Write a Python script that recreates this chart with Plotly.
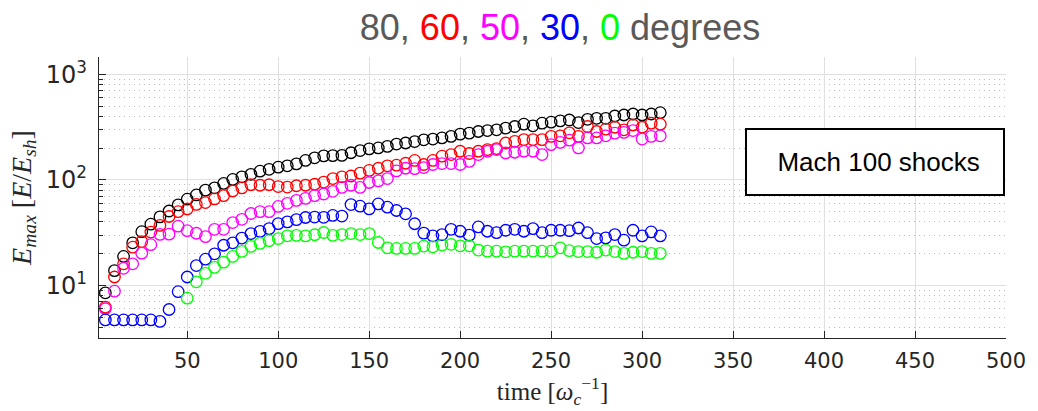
import plotly.graph_objects as go

# time axis (omega_c^-1)
time = [5 * k for k in range(1, 63)]          # 5 .. 310
time_green = [5 * k for k in range(10, 63)]   # 50 .. 310

deg80 = [8.5, 13.8, 18.8, 25.3, 32.3, 38, 44.6, 50.7, 58, 65.6,
         72, 80, 84, 92.6, 101, 107, 113, 121, 126, 132,
         136, 142, 153, 162, 169, 170, 171, 181, 190, 197,
         201, 208, 219, 224, 231, 240, 244, 250, 259, 272,
         278, 288, 294, 299, 310, 321, 338, 326, 345, 353,
         363, 370, 350, 376, 384, 384, 404, 413, 422, 413,
         422, 434]

deg60 = [6.2, 12, 16, 23, 26, 32, 37, 45, 50, 53,
         58.5, 61, 66, 71, 78.5, 84, 90, 89, 90, 86.5,
         85.5, 88, 89, 91, 95.5, 103, 107, 109, 116, 123,
         129, 136, 138, 144, 153, 140, 153, 168, 174, 187,
         178, 187, 194, 198, 224, 232, 241, 241, 241, 259,
         262, 280, 259, 321, 288, 303, 316, 299, 332, 316,
         345, 338]

deg50 = [6.0, 8.8, 14.5, 16, 20.2, 24.3, 30.4, 30.6, 36.4, 33,
         31.2, 29, 34, 34, 39.4, 42.3, 48, 50, 50, 56,
         60, 64, 66.8, 71, 73.5, 78, 84.8, 89, 85, 94.5,
         98, 103, 121.7, 129, 128, 131, 140, 143, 143, 140,
         150, 174, 187, 194, 180, 183, 187, 187, 174, 216,
         227, 238, 201, 250, 250, 262, 278, 282, 294, 244,
         259, 262]

deg30 = [4.7, 4.7, 4.7, 4.7, 4.7, 4.7, 4.55, 5.9, 8.7, 12,
         15.4, 17.7, 19.9, 24, 25.3, 28.1, 31, 32.5, 34.5, 38.5,
         40, 42, 44, 44.4, 44.2, 46, 45.4, 58.4, 56.3, 53.1,
         59.2, 55.1, 51.3, 47.7, 38.4, 31.3, 29.4, 30.3, 34, 32.6,
         29.9, 35.8, 32.6, 31.6, 33.3, 34, 32.6, 34.5, 31.6, 33.3,
         33.3, 33, 35, 31.6, 27.8, 28.2, 30.3, 26.8, 33.3, 29.4,
         32.1, 29.4]

deg0 = [7.55, 10.8, 13, 14.8, 16.6, 18.8, 21, 23.4, 25, 26.5,
        27.8, 29.5, 29.8, 29.4, 30.2, 31.7, 29.8, 30.3, 31, 30.3,
        31, 25.5, 22.7, 22.4, 22.4, 22.4, 23.6, 23.2, 24.1, 24.5,
        23.7, 23.7, 21.6, 21.1, 21.1, 20.8, 21.1, 21.1, 21.1, 21.1,
        21.1, 22.7, 21.3, 20.9, 20.9, 20.6, 21.6, 20.9, 20.1, 20.6,
        20.9, 20.1, 20.1]

x_ticks = [50, 100, 150, 200, 250, 300, 350, 400, 450, 500]
y_ticks = [10, 100, 1000]
y_ticktext = ["10<sup>1</sup>", "10<sup>2</sup>", "10<sup>3</sup>"]

series = [
    (time, deg80, "#000000", "80"),
    (time, deg60, "#ff0000", "60"),
    (time, deg50, "#ff00ff", "50"),
    (time, deg30, "#0000ff", "30"),
    (time_green, deg0, "#00ff00", "0"),
]

fig = go.Figure()
for xs, ys, col, name in series:
    fig.add_trace(go.Scatter(
        x=xs, y=ys, mode="markers", name=name,
        marker=dict(symbol="circle-open", size=11.5, color=col,
                    line=dict(width=1.3, color=col)),
        showlegend=False,
    ))

minor_vals = [m * 10 ** e for e in range(0, 4) for m in range(2, 10)]

title_text = ("<span style='color:#595959'>80, </span>"
              "<span style='color:#ff0000'>60</span>"
              "<span style='color:#595959'>, </span>"
              "<span style='color:#ff00ff'>50</span>"
              "<span style='color:#595959'>, </span>"
              "<span style='color:#0000ff'>30</span>"
              "<span style='color:#595959'>, </span>"
              "<span style='color:#00ff00'>0</span>"
              "<span style='color:#595959'> degrees</span>")

fig.update_layout(
    width=1038, height=411,
    margin=dict(l=99, r=25, t=57, b=69),
    paper_bgcolor="white", plot_bgcolor="white",
    title=dict(text=title_text, x=560 / 1038, xref="container", xanchor="center",
               y=1 - 27 / 411, yref="container", yanchor="middle",
               font=dict(family="Liberation Sans, Arial", size=36, color="#595959")),
    xaxis=dict(
        range=[1.5, 500], tickmode="array", tickvals=x_ticks,
        ticks="inside", ticklen=7, tickcolor="#262626", tickwidth=1,
        showline=True, linecolor="#262626", linewidth=1.3, mirror=False,
        showgrid=True, gridcolor="#e0e0e0", gridwidth=1, zeroline=False,
        tickfont=dict(family="DejaVu Sans", size=21, color="#262626"),
        ticklabelstandoff=4,
        title=dict(text="time [<i>ω</i><sub><i>c</i></sub><sup>−1</sup>]",
                   font=dict(family="Liberation Serif, Times New Roman", size=25,
                             color="#262626"),
                   standoff=8),
    ),
    yaxis=dict(
        type="log", range=[0.5005, 3.166], tickmode="array",
        tickvals=y_ticks, ticktext=y_ticktext,
        ticks="inside", ticklen=7, tickcolor="#262626", tickwidth=1,
        showline=True, linecolor="#262626", linewidth=1.3, mirror=False,
        showgrid=True, gridcolor="#e0e0e0", gridwidth=1, zeroline=False,
        tickfont=dict(family="DejaVu Sans", size=24, color="#262626"),
        ticklabelstandoff=6,
        minor=dict(tickmode="array", tickvals=minor_vals, ticks="inside",
                   ticklen=4, tickcolor="#262626", showgrid=True,
                   gridcolor="#bdbdbd", griddash="1px,4px", gridwidth=1),
        title=dict(text="<i>E</i><sub><i>max</i></sub> [<i>E</i>/<i>E</i><sub><i>sh</i></sub>]",
                   font=dict(family="Liberation Serif, Times New Roman", size=28,
                             color="#262626"),
                   standoff=6),
    ),
    annotations=[dict(
        text="&nbsp;Mach 100 shocks", xref="paper", yref="paper",
        x=(881 - 99) / 914, y=(342 - 164) / 285, xanchor="center", yanchor="middle",
        showarrow=False, width=256, height=64, align="center",
        bordercolor="#000000", borderwidth=2, borderpad=0, bgcolor="white",
        font=dict(family="Liberation Sans, Arial", size=26, color="#000000"),
    )],
)

fig.write_html("out.html")
